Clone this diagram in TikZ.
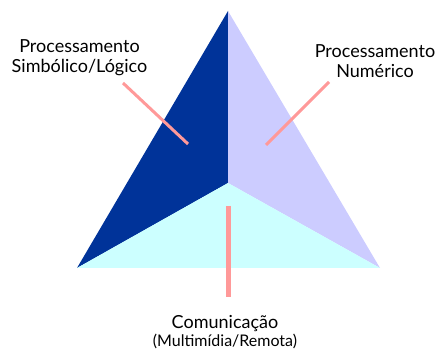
\documentclass[tikz,border=0pt]{standalone}
\usepackage{fontspec}
\setmainfont{Lato}
\usetikzlibrary{positioning}
\definecolor{simbblue}{RGB}{0,51,153}
\definecolor{numlilac}{RGB}{204,204,255}
\definecolor{comcyan}{RGB}{204,255,255}
\definecolor{leaderpink}{RGB}{255,153,153}

\begin{document}
\begin{tikzpicture}[
    x=1pt, y=-1pt,
    areatext/.style={align=center, inner sep=0pt, anchor=base, font=\fontsize{18}{20}\selectfont},
    leader/.style={draw=leaderpink, line width=3pt},
    thickleader/.style={leader, line width=5pt}
]
    \useasboundingbox (0,0) rectangle (437,352);

    % Vertices
    \coordinate (apex) at (228,11);
    \coordinate (mid) at (228,183);
    \coordinate (bl) at (77,268);
    \coordinate (br) at (380,268);

    % Faces
    \fill[simbblue] (apex) -- (mid) -- (bl) -- cycle;
    \fill[numlilac] (apex) -- (br) -- (mid) -- cycle;
    \fill[comcyan] (bl) -- (mid) -- (br) -- cycle;

    % Labels
    \node[areatext] (simb) at (79.5,72.7) {Processamento\\Simbólico/Lógico};
    \node[areatext] (num) at (375,78) {Processamento\\Numérico};
    \node[areatext] (com) at (225,347) {Comunicação\\[-2pt]{\fontsize{16}{18}\selectfont (Multimídia/Remota)}};

    % Leaders
    \coordinate (simbA) at (123,83);
    \coordinate (simbB) at (188,144);
    \coordinate (numA) at (329,82);
    \coordinate (numB) at (266,145);
    \coordinate (comA) at (228.5,206);
    \coordinate (comB) at (228.5,297);
    \draw[leader] (simbA) -- (simbB);
    \draw[leader] (numA) -- (numB);
    \draw[thickleader] (comA) -- (comB);
\end{tikzpicture}
\end{document}
